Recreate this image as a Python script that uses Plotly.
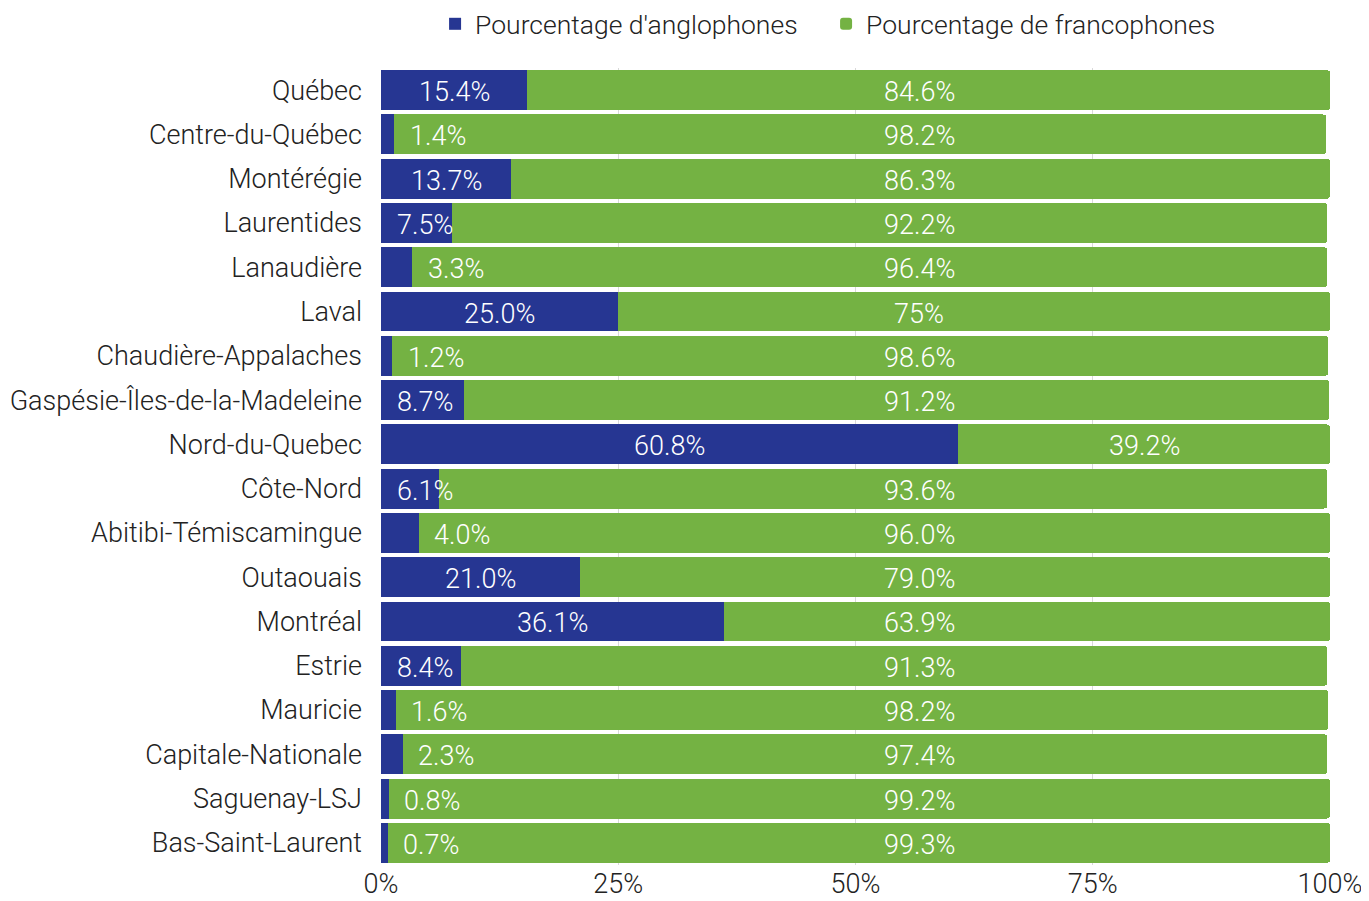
import plotly.graph_objects as go

regions = [
    "Québec", "Centre-du-Québec", "Montérégie", "Laurentides", "Lanaudière",
    "Laval", "Chaudière-Appalaches", "Gaspésie-Îles-de-la-Madeleine",
    "Nord-du-Quebec", "Côte-Nord", "Abitibi-Témiscamingue", "Outaouais",
    "Montréal", "Estrie", "Mauricie", "Capitale-Nationale", "Saguenay-LSJ",
    "Bas-Saint-Laurent",
]
anglo = [15.4, 1.4, 13.7, 7.5, 3.3, 25.0, 1.2, 8.7, 60.8, 6.1, 4.0, 21.0,
         36.1, 8.4, 1.6, 2.3, 0.8, 0.7]
franco = [84.6, 98.2, 86.3, 92.2, 96.4, 75.0, 98.6, 91.2, 39.2, 93.6, 96.0,
          79.0, 63.9, 91.3, 98.2, 97.4, 99.2, 99.3]
anglo_labels = ["15.4%", "1.4%", "13.7%", "7.5%", "3.3%", "25.0%", "1.2%",
                "8.7%", "60.8%", "6.1%", "4.0%", "21.0%", "36.1%", "8.4%",
                "1.6%", "2.3%", "0.8%", "0.7%"]
franco_labels = ["84.6%", "98.2%", "86.3%", "92.2%", "96.4%", "75%", "98.6%",
                 "91.2%", "39.2%", "93.6%", "96.0%", "79.0%", "63.9%", "91.3%",
                 "98.2%", "97.4%", "99.2%", "99.3%"]

BLUE = "#263692"
GREEN = "#74b243"
FONT = "Roboto, sans-serif"
TXT = "#222222"

fig = go.Figure()
fig.add_trace(go.Bar(
    y=regions, x=anglo, orientation="h", name="Pourcentage d'anglophones",
    marker=dict(color=BLUE, line=dict(width=0)), hoverinfo="x+y",
))
fig.add_trace(go.Bar(
    y=regions, x=franco, orientation="h", name="Pourcentage de francophones",
    marker=dict(color=GREEN, line=dict(width=0), cornerradius=3),
    hoverinfo="x+y",
))

# label positions: centred in blue bar, pushed right of tiny bars
ax = [v + 1.4 if v < 5 else max(v / 2, 4.6) for v in anglo]
fx = [56.7 if a < 50 else a + f / 2 for a, f in zip(anglo, franco)]

for xs, labels, is_anglo in ((ax, anglo_labels, True), (fx, franco_labels, False)):
    for x, y, t, v in zip(xs, regions, labels, anglo):
        left = is_anglo and v < 5
        fig.add_annotation(
            x=x, y=y, text=t, showarrow=False, yshift=-2,
            xanchor="left" if left else "center",
            font=dict(family=FONT, size=27, color="white", weight=300),
        )

# page body has an 8px margin, so the figure is sized to fit inside it
fig.update_layout(
    barmode="stack",
    bargap=0.1,
    width=1361, height=893,
    margin=dict(l=373, r=39, t=60, b=36, autoexpand=False),
    plot_bgcolor="white", paper_bgcolor="white",
    font=dict(family=FONT, size=27, color=TXT, weight=300),
    legend=dict(
        orientation="h", xref="paper", x=0.469, xanchor="center",
        yref="container", y=0.982, yanchor="middle",
        font=dict(size=26.5, color=TXT, weight=300),
        itemwidth=30, entrywidth=346, entrywidthmode="pixels",
        traceorder="normal",
    ),
    showlegend=True,
)
fig.update_xaxes(
    range=[0, 100], tickvals=[0, 25, 50, 75, 100],
    ticktext=["0%", "25%", "50%", "75%", "100%"],
    showgrid=True, gridcolor="#d9d9d9", gridwidth=1,
    zeroline=False, showline=False, ticks="", automargin=False,
    tickfont=dict(size=27, color=TXT, weight=300),
)
fig.update_yaxes(
    autorange="reversed", showgrid=False, ticks="", showline=False,
    automargin=False, ticklabelstandoff=18,
    tickfont=dict(size=27, color=TXT, weight=300),
)

fig.write_html("out.html")
